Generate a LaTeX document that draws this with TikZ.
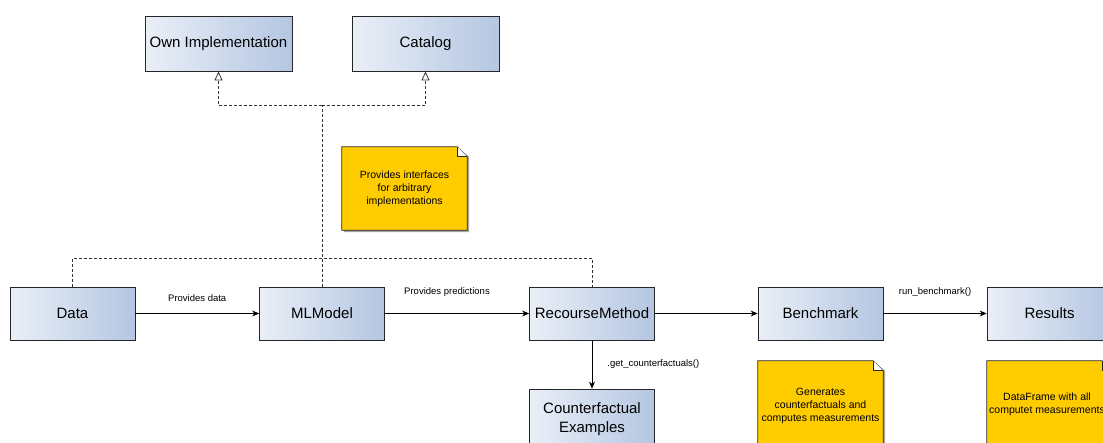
\documentclass[tikz,border=0pt]{standalone}
\usepackage{fontspec}
\setmainfont{Liberation Sans}
\usetikzlibrary{arrows.meta,backgrounds}
\definecolor{boxL}{HTML}{EAEFF7}
\definecolor{boxR}{HTML}{B4C6E2}
\definecolor{noteY}{HTML}{FFCC00}
\tikzset{
  umlbox/.style={draw=black!85, line width=0.8pt, left color=boxL, right color=boxR,
    minimum width=125pt, minimum height=53pt, inner sep=0pt, align=center,
    font=\fontsize{15}{18}\selectfont},
  notetext/.style={minimum width=125pt, minimum height=83pt, inner sep=0pt, align=center,
    font=\fontsize{10.5}{13}\selectfont},
  lbl/.style={font=\fontsize{9.5}{11}\selectfont, inner sep=1pt},
  flow/.style={draw=black, line width=0.8pt, -{Stealth[length=7pt,width=6pt]}},
  dep/.style={draw=black!80, line width=0.8pt, dash pattern=on 3pt off 2pt},
  impl/.style={dep, -{Triangle[open,length=9pt,width=8pt]}},
}
\newcommand{\notedraw}[1]{%
  \begin{scope}[on background layer]
    \fill[black!35] ([shift={(2pt,-2pt)}]#1.north west) -- ([shift={(2pt,-2pt)}]#1.south west) --
      ([shift={(2pt,-2pt)}]#1.south east) -- ([shift={(2pt,-10pt)}]#1.north east) --
      ([shift={(-8pt,-2pt)}]#1.north east) -- cycle;
    \filldraw[fill=noteY, draw=black!85, line width=0.8pt] (#1.north west) -- (#1.south west) --
      (#1.south east) -- ([yshift=-10pt]#1.north east) -- ([xshift=-10pt]#1.north east) -- cycle;
    \filldraw[fill=white, draw=black!85, line width=0.8pt] ([xshift=-10pt]#1.north east) --
      ([xshift=-10pt,yshift=-10pt]#1.north east) -- ([yshift=-10pt]#1.north east);
  \end{scope}}
\begin{document}
\begin{tikzpicture}[x=1pt,y=-1pt]
\useasboundingbox (0,0) rectangle (1103,442);
\clip (0,0) rectangle (1103,442);
% boxes
\node[umlbox, minimum width=147pt, minimum height=55pt] (own) at (218.5,43.5) {Own Implementation};
\node[umlbox, minimum width=147pt, minimum height=55pt] (cat) at (425.5,43.5) {Catalog};
\node[umlbox] (data) at (72.5,313.5) {Data};
\node[umlbox] (ml) at (322,313.5) {MLModel};
\node[umlbox] (rm) at (592,313.5) {RecourseMethod};
\node[umlbox] (bm) at (820.5,313.5) {Benchmark};
\node[umlbox] (res) at (1049.5,313.5) {Results};
\node[umlbox, minimum height=60pt] (cf) at (592,419) {Counterfactual\\[1pt]Examples};
% notes
\node[notetext] (n1) at (404.5,188.5) {Provides interfaces\\for arbitrary\\implementations};
\notedraw{n1}
\node[notetext, minimum height=90pt] (n2) at (820.5,406) {Generates\\counterfactuals and\\computes measurements};
\notedraw{n2}
\node[notetext, minimum height=90pt] (n3) at (1049.5,406) {};
\notedraw{n3}
\node[font=\fontsize{10.5}{13}\selectfont, align=center] (n3t) at (1047,404) {DataFrame with all\\computet measurements};
% dependency lines
\coordinate (j1) at (322,105);
\coordinate (j2) at (322,258);
\draw[dep] (ml.north) -- (j1);
\draw[impl] (j1) -| (own.south);
\draw[impl] (j1) -| (cat.south);
\draw[dep] (data.north) |- (j2) -| (rm.north);
% flow arrows
\draw[flow] (data) -- node[lbl, above=11pt] {Provides data} (ml);
\draw[flow] (ml) -- node[lbl, above=16pt, xshift=-10pt] {Provides predictions} (rm);
\draw[flow] (rm) -- (bm);
\draw[flow] (bm) -- node[lbl, above=16pt] {run\_benchmark()} (res);
\draw[flow] (rm) -- node[lbl, right=14pt] {.get\_counterfactuals()} (cf);
\end{tikzpicture}
\end{document}
